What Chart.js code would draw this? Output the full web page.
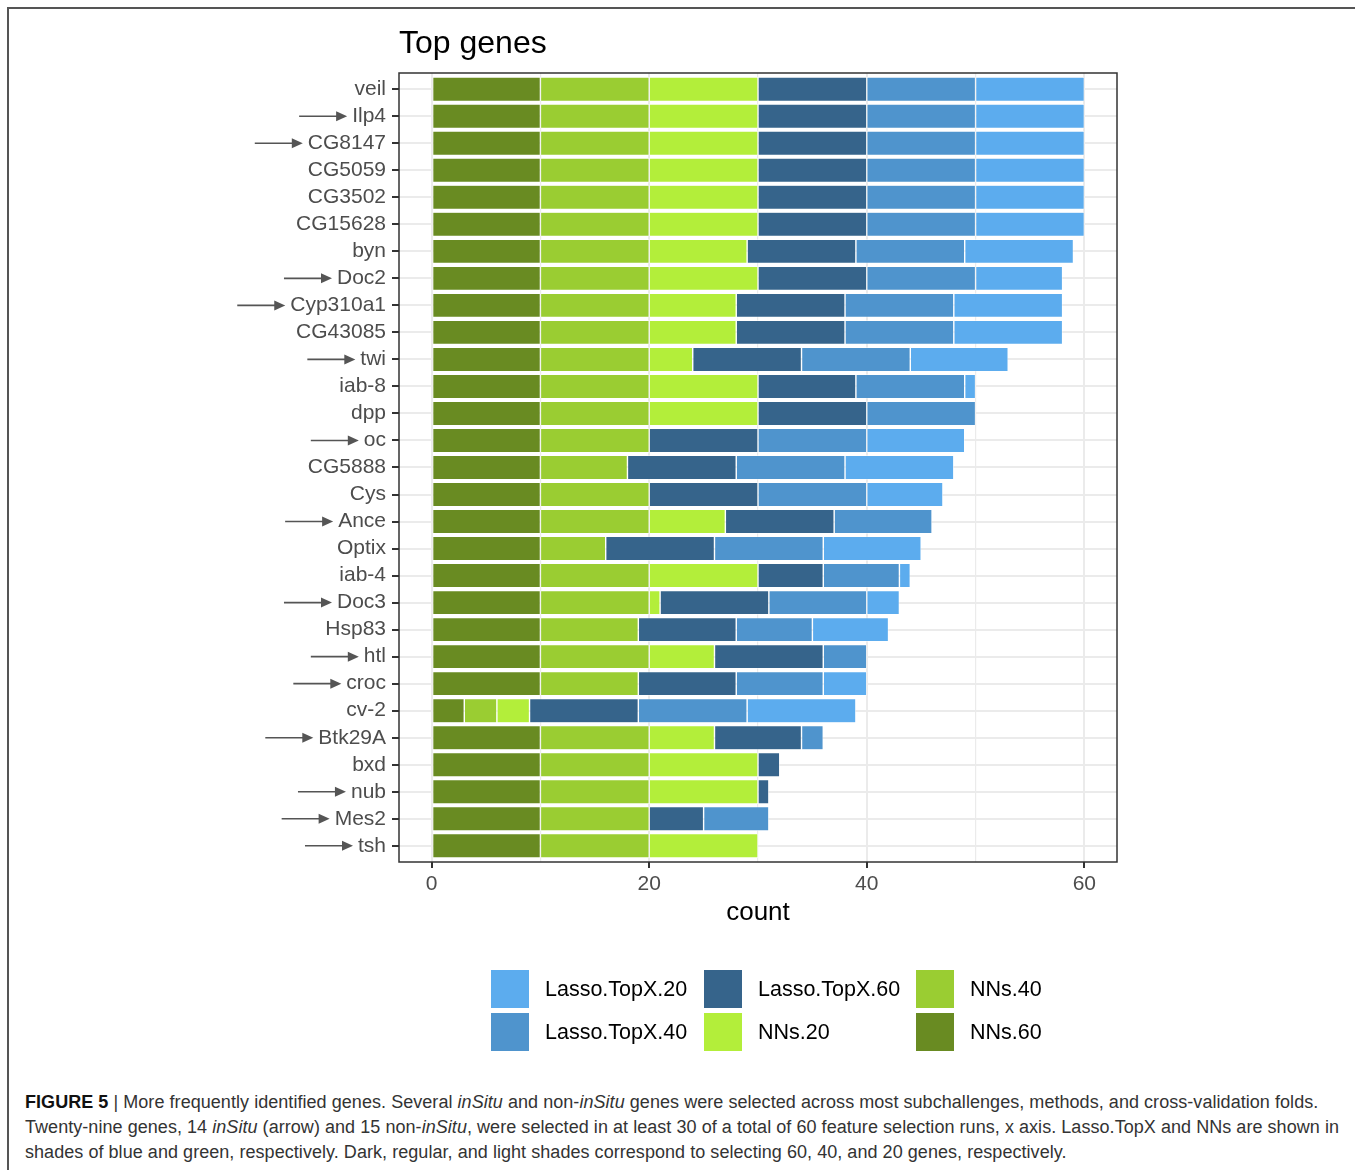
<!DOCTYPE html>
<html>
<head>
<meta charset="utf-8">
<title>Top genes</title>
<script src="https://cdn.jsdelivr.net/npm/chart.js@4/dist/chart.umd.min.js"></script>
<style>
  html, body { margin: 0; padding: 0; background: #fff; }
  body { width: 1355px; height: 1170px; position: relative; overflow: hidden; }
  #frame { position: absolute; left: 7px; top: 7px; width: 1360px; height: 1180px;
           border-top: 2px solid #555; border-left: 2px solid #555; box-sizing: border-box; }
  #wrap { position: absolute; left: 0; top: 0; width: 1355px; height: 1060px; }
  #caption { position: absolute; left: 25px; top: 1090px; font-family: "Liberation Sans", Arial, sans-serif;
             font-size: 18px; line-height: 25px; color: #333; white-space: nowrap; letter-spacing: 0.05px; }
  #caption b { color: #111; }
  #caption .bar { font-weight: normal; }
</style>
</head>
<body>
<div id="frame"></div>
<div id="wrap"><canvas id="chart" width="1355" height="1060"></canvas></div>
<div id="caption"><b>FIGURE 5</b> <span class="bar">|</span> More frequently identified genes. Several <i>inSitu</i> and non-<i>inSitu</i> genes were selected across most subchallenges, methods, and cross-validation folds.<br>Twenty-nine genes, 14 <i>inSitu</i> (arrow) and 15 non-<i>inSitu</i>, were selected in at least 30 of a total of 60 feature selection runs, x axis. Lasso.TopX and NNs are shown in<br>shades of blue and green, respectively. Dark, regular, and light shades correspond to selecting 60, 40, and 20 genes, respectively.</div>
<script>
// Genes, top to bottom
const genes = ['veil','Ilp4','CG8147','CG5059','CG3502','CG15628','byn','Doc2','Cyp310a1','CG43085',
  'twi','iab-8','dpp','oc','CG5888','Cys','Ance','Optix','iab-4','Doc3','Hsp83','htl','croc','cv-2',
  'Btk29A','bxd','nub','Mes2','tsh'];

// inSitu genes (marked with an arrow)
const inSitu = ['Ilp4','CG8147','Doc2','Cyp310a1','twi','oc','Ance','Doc3','htl','croc','Btk29A','nub','Mes2','tsh'];

// Selection counts per method, same order as genes
const nns60   = [10,10,10,10,10,10,10,10,10,10,10,10,10,10,10,10,10,10,10,10,10,10,10, 3,10,10,10,10,10];
const nns40   = [10,10,10,10,10,10,10,10,10,10,10,10,10,10, 8,10,10, 6,10,10, 9,10, 9, 3,10,10,10,10,10];
const nns20   = [10,10,10,10,10,10, 9,10, 8, 8, 4,10,10, 0, 0, 0, 7, 0,10, 1, 0, 6, 0, 3, 6,10,10, 0,10];
const lasso60 = [10,10,10,10,10,10,10,10,10,10,10, 9,10,10,10,10,10,10, 6,10, 9,10, 9,10, 8, 2, 1, 5, 0];
const lasso40 = [10,10,10,10,10,10,10,10,10,10,10,10,10,10,10,10, 9,10, 7, 9, 7, 4, 8,10, 2, 0, 0, 6, 0];
const lasso20 = [10,10,10,10,10,10,10, 8,10,10, 9, 1, 0, 9,10, 7, 0, 9, 1, 3, 7, 0, 4,10, 0, 0, 0, 0, 0];

const xTicks = [0, 10, 20, 30, 40, 50, 60];
const xLabels = [0, 20, 40, 60];

// Stacked from zero outward
const series = [
  { label: 'NNs.60',        values: nns60,   color: '#698B22' },
  { label: 'NNs.40',        values: nns40,   color: '#9ACD32' },
  { label: 'NNs.20',        values: nns20,   color: '#B3EE3A' },
  { label: 'Lasso.TopX.60', values: lasso60, color: '#36648B' },
  { label: 'Lasso.TopX.40', values: lasso40, color: '#4F94CD' },
  { label: 'Lasso.TopX.20', values: lasso20, color: '#5CACEE' }
];
const legendOrder = ['Lasso.TopX.20','Lasso.TopX.40','Lasso.TopX.60','NNs.20','NNs.40','NNs.60'];

const FONT = '"Liberation Sans", Arial, Helvetica, sans-serif';
const TICK_FONT_SIZE = 21;

const datasets = series.map(s => ({
  label: s.label,
  data: s.values.map((v, i) => ({ x: v, y: i })),
  backgroundColor: s.color,
  borderColor: 'rgba(255,255,255,0.85)',
  borderWidth: 0.7,
  borderSkipped: false,
  categoryPercentage: 1,
  barPercentage: 0.9
}));

const decor = {
  id: 'decor',
  afterDatasetsDraw(chart) {
    const { ctx, chartArea: a } = chart;
    ctx.save();
    ctx.strokeStyle = '#333';
    ctx.lineWidth = 1.5;
    ctx.strokeRect(a.left, a.top, a.right - a.left, a.bottom - a.top);
    ctx.restore();
  },
  afterDraw(chart) {
    const { ctx, chartArea: a, scales } = chart;
    ctx.save();
    // Title
    ctx.fillStyle = '#000';
    ctx.font = '32px ' + FONT;
    ctx.textAlign = 'left';
    ctx.textBaseline = 'alphabetic';
    ctx.fillText('Top genes', a.left, 53);

    // Arrows for inSitu genes
    const y = scales.y;
    const labelRight = a.left - y.options.grid.tickLength - y.options.ticks.padding;
    ctx.font = TICK_FONT_SIZE + 'px ' + FONT;
    ctx.strokeStyle = '#555';
    ctx.fillStyle = '#555';
    ctx.lineWidth = 1.6;
    genes.forEach((g, i) => {
      if (!inSitu.includes(g)) return;
      const w = ctx.measureText(g).width;
      const yy = y.getPixelForValue(i);
      const tip = labelRight - w - 5;
      const head = 11, half = 5;
      ctx.beginPath();
      ctx.moveTo(tip - 48, yy);
      ctx.lineTo(tip - head + 1, yy);
      ctx.stroke();
      ctx.beginPath();
      ctx.moveTo(tip, yy);
      ctx.lineTo(tip - head, yy - half);
      ctx.lineTo(tip - head, yy + half);
      ctx.closePath();
      ctx.fill();
    });

    // Legend: 3 columns x 2 rows, filled column by column
    const colX = [491, 704, 916];
    const rowY = [970, 1013];
    const key = 38;
    ctx.font = '21.5px ' + FONT;
    ctx.textBaseline = 'middle';
    legendOrder.forEach((name, k) => {
      const ds = chart.data.datasets.find(d => d.label === name);
      const cx = colX[Math.floor(k / 2)];
      const cy = rowY[k % 2];
      ctx.fillStyle = ds.backgroundColor;
      ctx.fillRect(cx, cy, key, key);
      ctx.fillStyle = '#000';
      ctx.fillText(name, cx + key + 16, cy + key / 2 + 1);
    });
    ctx.restore();
  }
};

new Chart(document.getElementById('chart'), {
  type: 'bar',
  data: { datasets },
  plugins: [decor],
  options: {
    responsive: false,
    animation: false,
    indexAxis: 'y',
    layout: { padding: { left: 0, top: 73, right: 238, bottom: 118 } },
    plugins: { legend: { display: false }, title: { display: false }, tooltip: { enabled: false } },
    scales: {
      x: {
        type: 'linear',
        stacked: true,
        min: -3,
        max: 63,
        offset: false,
        afterBuildTicks: (scale) => { scale.ticks = xTicks.map(v => ({ value: v })); },
        afterFit: (scale) => { scale.height = 80; },
        ticks: {
          autoSkip: false,
          maxRotation: 0,
          padding: 4,
          color: '#4D4D4D',
          font: { family: FONT, size: TICK_FONT_SIZE },
          callback: (v) => xLabels.includes(v) ? String(v) : ''
        },
        grid: {
          offset: false,
          color: '#EBEBEB',
          lineWidth: (c) => (c.tick && xLabels.includes(c.tick.value)) ? 2 : 1.2,
          tickLength: 6,
          tickColor: (c) => (c.tick && xLabels.includes(c.tick.value)) ? '#333' : 'rgba(0,0,0,0)',
          tickWidth: 2
        },
        border: { display: false },
        title: {
          display: true,
          text: 'count',
          color: '#000',
          font: { family: FONT, size: 26 },
          padding: { top: 0, bottom: 14 }
        }
      },
      y: {
        type: 'linear',
        stacked: true,
        reverse: true,
        min: -0.6,
        max: 28.6,
        offset: false,
        afterBuildTicks: (scale) => { scale.ticks = genes.map((g, i) => ({ value: i })); },
        afterFit: (scale) => { scale.width = 399; },
        ticks: {
          autoSkip: false,
          padding: 6,
          color: '#4D4D4D',
          font: { family: FONT, size: TICK_FONT_SIZE },
          callback: (v) => genes[v]
        },
        grid: {
          offset: false,
          color: '#EBEBEB',
          lineWidth: 2,
          tickLength: 7,
          tickColor: '#333',
          tickWidth: 2
        },
        border: { display: false }
      }
    }
  }
});
</script>
</body>
</html>
